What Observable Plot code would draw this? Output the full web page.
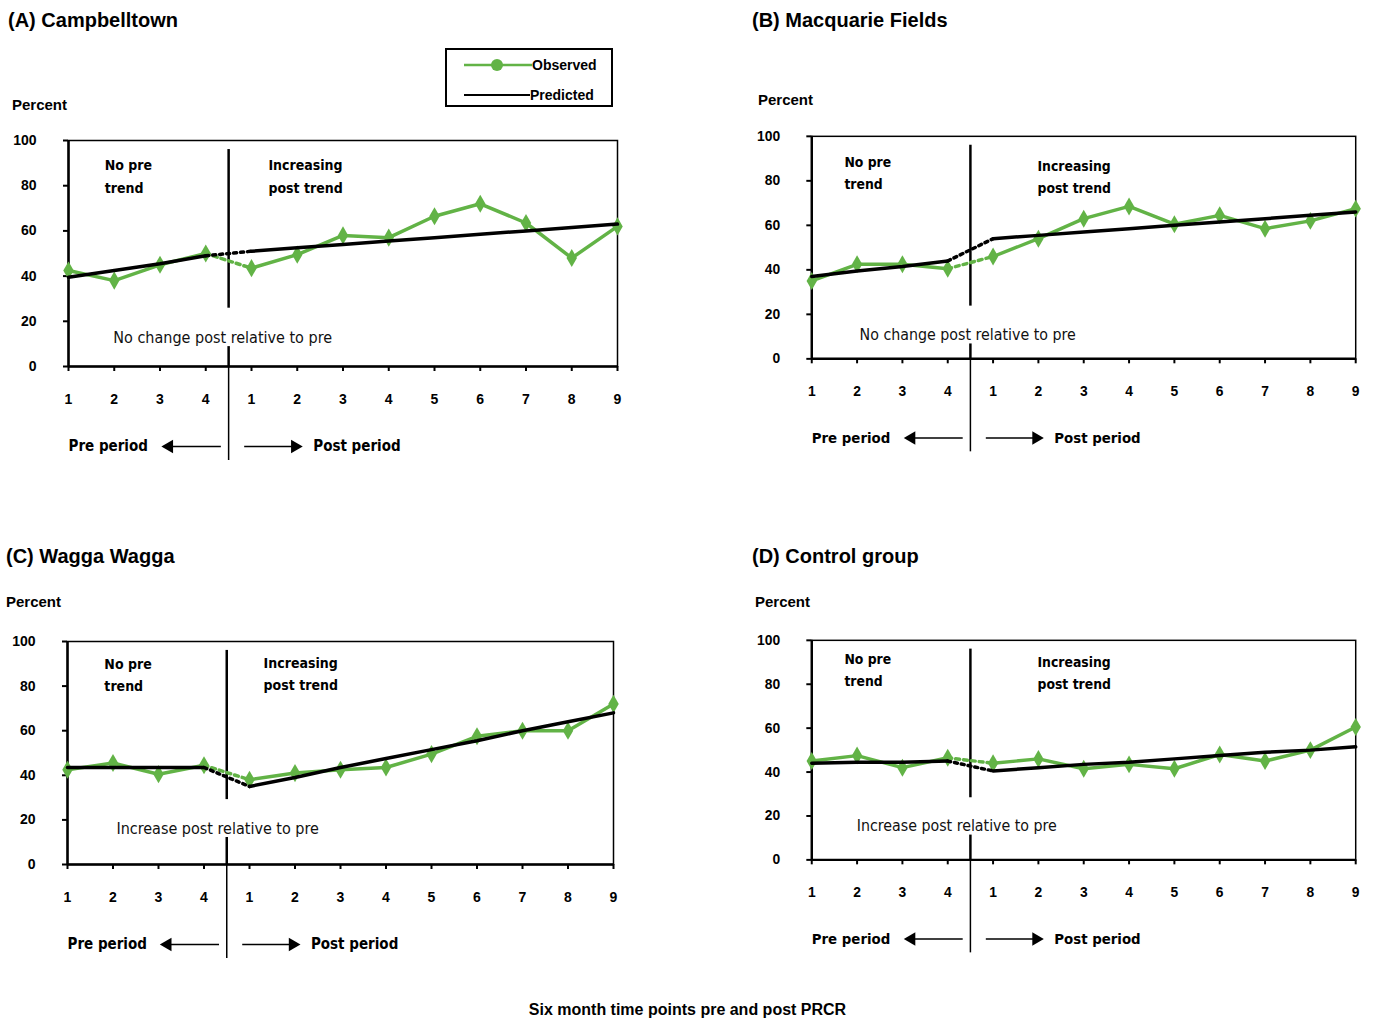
<!DOCTYPE html>
<html>
<head>
<meta charset="utf-8">
<script src="https://cdn.jsdelivr.net/npm/d3@7"></script>
<script src="https://cdn.jsdelivr.net/npm/@observablehq/plot@0.6"></script>
<style>
  html, body { margin: 0; padding: 0; background: #fff; width: 1375px; height: 1019px; overflow: hidden; }
  body { position: relative; font-family: "Liberation Sans", Arial, sans-serif; }
  .abs { position: absolute; white-space: nowrap; color: #000; }
  .title { font-weight: bold; font-size: 20px; }
  .unit { font-weight: bold; font-size: 15px; }
  .panel { position: absolute; }
  .panel svg { overflow: visible; }
</style>
</head>
<body>
<script>
// ---------- data ----------
const positions = [1, 2, 3, 4, 5, 6, 7, 8, 9, 10, 11, 12, 13];
const periodLabels = ["1", "2", "3", "4", "1", "2", "3", "4", "5", "6", "7", "8", "9"];
const yTicks = [0, 20, 40, 60, 80, 100];

const observedA = [42.5, 38, 45, 50, 43.5, 49.5, 58, 57, 66.5, 72, 63.5, 48, 62];
const predictedA = [39.5, 42.5, 45.5, 49, 51, 52.5, 54, 55.5, 57, 58.5, 60, 61.5, 63];
const observedB = [35, 42.5, 42.5, 40.5, 46, 54, 63, 68.5, 60.5, 64.5, 58.5, 62, 67.5];
const predictedB = [37, 39.5, 41.5, 44, 54, 55.5, 57, 58.5, 60, 61.5, 63, 64.5, 66];
const observedC = [42.5, 45.5, 40.5, 44.5, 38, 41, 42.5, 43.5, 49.5, 57.5, 60, 60, 72];
const predictedC = [43.5, 43.5, 43.5, 43.5, 35, 39, 43.5, 47.5, 51.5, 55.5, 60, 64, 68];
const observedD = [45, 47.5, 42, 46.5, 44, 46, 41.5, 43.5, 41.5, 48, 45, 50, 60.5];
const predictedD = [44, 44.5, 44.5, 45, 40.5, 42, 43.5, 44.5, 46, 47.5, 49, 50, 51.5];

const titles = ["(A) Campbelltown", "(B) Macquarie Fields", "(C) Wagga Wagga", "(D) Control group"];
const changeNotes = ["No change post relative to pre", "No change post relative to pre",
                     "Increase post relative to pre", "Increase post relative to pre"];
const preTrendText = "No pre\ntrend";
const postTrendText = "Increasing\npost trend";
const unitLabel = "Percent";
const preLabel = "Pre period";
const postLabel = "Post period";
const caption = "Six month time points pre and post PRCR";
const legendLabels = ["Observed", "Predicted"];

const GREEN = "#62b346";
const FONT = '"Liberation Sans Narrow", "DejaVu Sans Condensed", "Liberation Sans", Arial, sans-serif';

// ---------- layout (pixels) ----------
const panels = [
  {obs: observedA, pred: predictedA, axisX: 68,  rightX: 617,  y100: 140, y0: 366,
   titleX: 8,   titleY: 9,   unitX: 12,  unitY: 96,
   preTxt: [1.79, 85], postTxt: [5.37, 85], note: [4.37, 12.8]},
  {obs: observedB, pred: predictedB, axisX: 812, rightX: 1362, y100: 136, y0: 361,
   titleX: 752, titleY: 9,   unitX: 758, unitY: 91,
   preTxt: [1.72, 84.4], postTxt: [5.98, 82.7], note: [4.44, 10.7]},
  {obs: observedC, pred: predictedC, axisX: 67,  rightX: 613,  y100: 641, y0: 864,
   titleX: 6,   titleY: 545, unitX: 6,   unitY: 593,
   preTxt: [1.81, 86], postTxt: [5.31, 86.5], note: [4.3, 16.1]},
  {obs: observedD, pred: predictedD, axisX: 812, rightX: 1362, y100: 640, y0: 862,
   titleX: 752, titleY: 545, unitX: 755, unitY: 593,
   preTxt: [1.72, 87.4], postTxt: [5.98, 86], note: [4.2, 15.3]}
];

function addText(txt, x, y, cls) {
  const d = document.createElement("div");
  d.className = "abs " + cls;
  d.style.left = x + "px";
  d.style.top = y + "px";
  d.textContent = txt;
  document.body.appendChild(d);
}

function makePanel(p, idx) {
  const mL = 68, mT = 15, mR = 20, mB = 108;
  const plotH = p.y0 - p.y100;
  const plotW = p.rightX - p.axisX;
  const pxPerUnit = plotH / 100;
  const below = px => -px / pxPerUnit;   // value that sits px pixels below the x axis
  const rows = positions.map((x, i) => ({x, i, obs: p.obs[i], pred: p.pred[i]}));
  const pre = rows.filter(d => d.i <= 3);
  const post = rows.filter(d => d.i >= 4);
  const bridge = rows.filter(d => d.i === 3 || d.i === 4);
  const yLab = below(80);

  const chart = Plot.plot({
    width: mL + plotW + mR,
    height: mT + plotH + mB,
    marginLeft: mL, marginRight: mR, marginTop: mT, marginBottom: mB,
    x: {domain: [1, 13], axis: null},
    y: {domain: [0, 100], axis: null},
    style: {fontFamily: FONT, background: "transparent", overflow: "visible"},
    marks: [
      Plot.frame({stroke: "#000", strokeWidth: 1.5}),
      Plot.axisY({ticks: yTicks, tickSize: 5, tickPadding: 27, fontSize: 14, fontWeight: "bold",
                  fontFamily: '"Liberation Sans", Arial, sans-serif', label: null, strokeWidth: 2}),
      Plot.axisX({ticks: positions, tickFormat: d => periodLabels[d - 1], tickSize: 5, tickPadding: 23,
                  fontSize: 14, fontWeight: "bold", fontFamily: '"Liberation Sans", Arial, sans-serif',
                  label: null, strokeWidth: 2}),
      Plot.ruleX([1], {stroke: "#000", strokeWidth: 2.5}),
      Plot.ruleY([0], {stroke: "#000", strokeWidth: 2.5}),
      // intervention divider (broken around the note)
      Plot.ruleX([4.5], {y1: 96, y2: p.note[1] + 13, stroke: "#000", strokeWidth: 2.5}),
      Plot.ruleX([4.5], {y1: p.note[1] - 4, y2: 0, stroke: "#000", strokeWidth: 2.5}),
      Plot.ruleX([4.5], {y1: 0, y2: below(94), stroke: "#000", strokeWidth: 1.5}),
      // observed
      Plot.line(pre, {x: "x", y: "obs", stroke: GREEN, strokeWidth: 3.5}),
      Plot.line(bridge, {x: "x", y: "obs", stroke: GREEN, strokeWidth: 3.5, strokeDasharray: "4,4"}),
      Plot.line(post, {x: "x", y: "obs", stroke: GREEN, strokeWidth: 3.5}),
      Plot.dot(rows, {x: "x", y: "obs", fill: GREEN, r: 5.5, symbol: "diamond"}),
      // predicted
      Plot.line(pre, {x: "x", y: "pred", stroke: "#000", strokeWidth: 3.5}),
      Plot.line(bridge, {x: "x", y: "pred", stroke: "#000", strokeWidth: 3.5, strokeDasharray: "3,4"}),
      Plot.line(post, {x: "x", y: "pred", stroke: "#000", strokeWidth: 3.5}),
      // annotations
      Plot.text([preTrendText], {x: p.preTxt[0], y: p.preTxt[1], textAnchor: "start", lineAnchor: "middle",
                  lineHeight: 1.6, fontSize: 14, fontWeight: "bold", fill: "#000"}),
      Plot.text([postTrendText], {x: p.postTxt[0], y: p.postTxt[1], textAnchor: "start", lineAnchor: "middle",
                  lineHeight: 1.6, fontSize: 14, fontWeight: "bold", fill: "#000"}),
      Plot.text([changeNotes[idx]], {x: p.note[0], y: p.note[1], textAnchor: "middle", fontSize: 16,
                  fill: "#111", fontFamily: FONT}),
      // pre / post period labels with arrows
      Plot.text([preLabel], {x: 1, y: yLab, textAnchor: "start", fontSize: 15, fontWeight: "bold", fill: "#000"}),
      Plot.link([0], {x1: 4.33, x2: 3.25, y1: yLab, y2: yLab, stroke: "#000", strokeWidth: 1.5}),
      Plot.dot([0], {x: 3.2, y: yLab, symbol: "triangle", rotate: -90, r: 5, fill: "#000"}),
      Plot.link([0], {x1: 4.84, x2: 5.9, y1: yLab, y2: yLab, stroke: "#000", strokeWidth: 1.5}),
      Plot.dot([0], {x: 5.95, y: yLab, symbol: "triangle", rotate: 90, r: 5, fill: "#000"}),
      Plot.text([postLabel], {x: 6.35, y: yLab, textAnchor: "start", fontSize: 15, fontWeight: "bold", fill: "#000"})
    ]
  });
  const wrap = document.createElement("div");
  wrap.className = "panel";
  wrap.style.left = (p.axisX - mL) + "px";
  wrap.style.top = (p.y100 - mT) + "px";
  wrap.appendChild(chart);
  document.body.appendChild(wrap);

  addText(titles[idx], p.titleX, p.titleY, "title");
  addText(unitLabel, p.unitX, p.unitY, "unit");
}

panels.forEach(makePanel);

// ---------- legend ----------
const leg = document.createElement("div");
leg.className = "abs";
leg.style.left = "445px"; leg.style.top = "48px";
leg.style.width = "164px"; leg.style.height = "55px";
leg.style.border = "2px solid #000";
leg.innerHTML =
  `<svg width="164" height="55" style="position:absolute;left:0;top:0">
     <line x1="17" x2="85" y1="15" y2="15" stroke="${GREEN}" stroke-width="2.5"/>
     <circle cx="50" cy="15" r="6" fill="${GREEN}"/>
     <line x1="17" x2="83" y1="45" y2="45" stroke="#000" stroke-width="2"/>
     <text x="85" y="20" font-family='"Liberation Sans", Arial, sans-serif' font-size="14" font-weight="bold">${legendLabels[0]}</text>
     <text x="83" y="50" font-family='"Liberation Sans", Arial, sans-serif' font-size="14" font-weight="bold">${legendLabels[1]}</text>
   </svg>`;
document.body.appendChild(leg);

// ---------- caption ----------
const cap = document.createElement("div");
cap.className = "abs";
cap.style.left = "0px"; cap.style.width = "1375px"; cap.style.top = "1001px";
cap.style.textAlign = "center";
cap.style.fontWeight = "bold"; cap.style.fontSize = "16px";
cap.textContent = caption;
document.body.appendChild(cap);
</script>
</body>
</html>
